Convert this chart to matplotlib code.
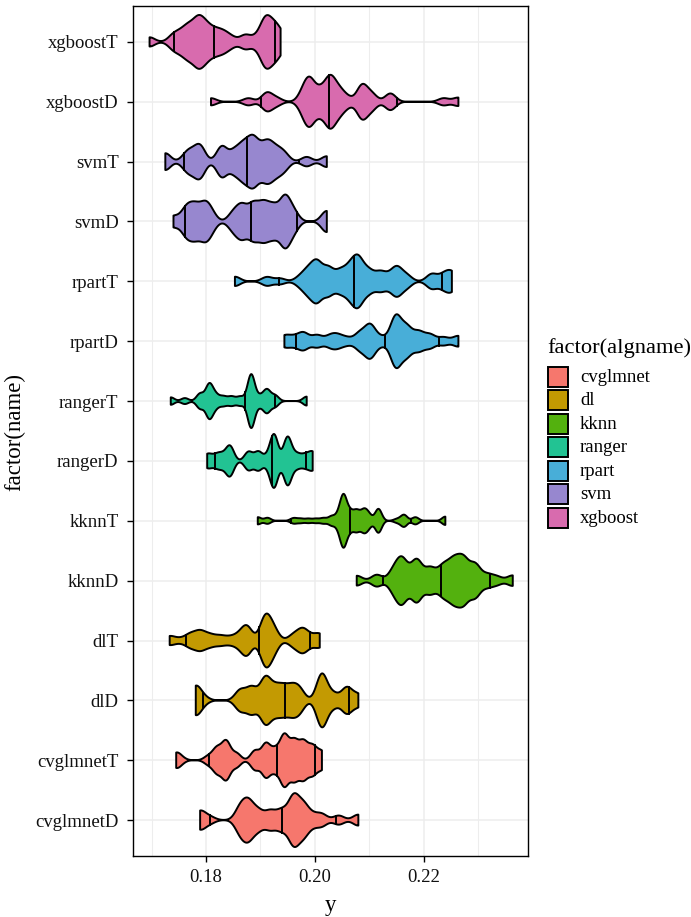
import numpy as np
import matplotlib
matplotlib.use("Agg")
import matplotlib.pyplot as plt
from matplotlib.patches import Rectangle

plt.rcParams["font.family"] = ["Liberation Serif", "DejaVu Serif"]

# rows from bottom to top
names = ["cvglmnetD", "cvglmnetT", "dlD", "dlT", "kknnD", "kknnT", "rangerD",
         "rangerT", "rpartD", "rpartT", "svmD", "svmT", "xgboostD", "xgboostT"]
algnames = ["cvglmnet", "dl", "kknn", "ranger", "rpart", "svm", "xgboost"]
alg_colors = ["#F6776D", "#C39A02", "#53B10E", "#22C393", "#48AED8", "#9787CF", "#D86BAE"]

# observed error values (clustered) and how often each occurs
cvglmnetD_vals = [0.1789, 0.1807, 0.1863, 0.1878, 0.1896, 0.1918, 0.1939, 0.1961, 0.1979, 0.1996, 0.2013, 0.2044, 0.2080]
cvglmnetD_cnt = [28, 10, 38, 52, 28, 28, 30, 72, 45, 15, 18, 14, 17]
cvglmnetT_vals = [0.1745, 0.1755, 0.1804, 0.1820, 0.1837, 0.1856, 0.1890, 0.1910, 0.1927, 0.1944, 0.1962, 0.1979, 0.1996, 0.2013]
cvglmnetT_cnt = [20, 6, 12, 35, 55, 20, 28, 48, 30, 72, 55, 52, 40, 25]
dlD_vals = [0.1781, 0.1796, 0.1863, 0.1884, 0.1909, 0.1927, 0.1942, 0.1958, 0.1972, 0.2013, 0.2034, 0.2059, 0.2080]
dlD_cnt = [38, 8, 28, 35, 60, 30, 30, 30, 28, 72, 18, 35, 16]
dlT_vals = [0.1733, 0.1752, 0.1771, 0.1789, 0.1807, 0.1826, 0.1844, 0.1860, 0.1875, 0.1909, 0.1924, 0.1961, 0.1978, 0.1994, 0.2009]
dlT_cnt = [14, 6, 20, 28, 17, 14, 10, 15, 45, 75, 35, 18, 35, 10, 20]
kknnD_vals = [0.2077, 0.2114, 0.2145, 0.2160, 0.2174, 0.2188, 0.2212, 0.2234, 0.2246, 0.2258, 0.2274, 0.2295, 0.2317, 0.2335, 0.2364]
kknnD_cnt = [15, 18, 30, 60, 12, 60, 38, 35, 25, 50, 60, 48, 18, 12, 16]
kknnT_vals = [0.1895, 0.1913, 0.1961, 0.1974, 0.1988, 0.2002, 0.2016, 0.2031, 0.2044, 0.2053, 0.2065, 0.2077,
              0.2090, 0.2099, 0.2117, 0.2151, 0.2164, 0.2185, 0.2240]
kknnT_cnt = [12, 10, 9, 7, 7, 7, 9, 15, 20, 80, 28, 32, 32, 20, 40, 6, 20, 12, 14]
rangerD_vals = [0.1802, 0.1813, 0.1823, 0.1832, 0.1844, 0.1878, 0.1896, 0.1912, 0.1925, 0.1950, 0.1967, 0.1982, 0.1996]
rangerD_cnt = [17, 8, 15, 10, 40, 25, 25, 10, 72, 66, 18, 16, 24]
rangerT_vals = [0.1735, 0.1761, 0.1789, 0.1806, 0.1818, 0.1832, 0.1847, 0.1863, 0.1883, 0.1899, 0.1912, 0.1927, 0.1985]
rangerT_cnt = [10, 8, 20, 45, 15, 12, 12, 12, 72, 12, 30, 15, 12]
rpartD_vals = [0.1944, 0.1961, 0.1979, 0.2004, 0.2028, 0.2042, 0.2059, 0.2083, 0.2102, 0.2123, 0.2149, 0.2169,
               0.2191, 0.2212, 0.2237, 0.2264]
rpartD_cnt = [16, 12, 25, 18, 15, 16, 10, 25, 48, 12, 75, 42, 28, 20, 12, 16]
rpartT_vals = [0.1853, 0.1912, 0.1936, 0.1973, 0.1988, 0.2004, 0.2025, 0.2047, 0.2065, 0.2080, 0.2099, 0.2120,
               0.2136, 0.2151, 0.2169, 0.2215, 0.2237, 0.2252]
rpartT_cnt = [16, 15, 10, 15, 35, 62, 45, 35, 45, 72, 35, 30, 15, 45, 20, 25, 22, 30]
svmD_vals = [0.1740, 0.1764, 0.1780, 0.1798, 0.1810, 0.1850, 0.1866, 0.1887, 0.1906, 0.1924, 0.1945, 0.1961, 0.2022]
svmD_cnt = [16, 40, 42, 45, 22, 25, 45, 50, 50, 42, 70, 28, 32]
svmT_vals = [0.1725, 0.1764, 0.1774, 0.1789, 0.1829, 0.1852, 0.1869, 0.1886, 0.1902, 0.1915, 0.1930, 0.1944, 0.1985, 0.2022]
svmT_cnt = [25, 20, 18, 45, 45, 30, 45, 62, 28, 45, 28, 22, 14, 16]
xgboostD_vals = [0.1809, 0.1878, 0.1912, 0.1930, 0.1979, 0.1991, 0.2010, 0.2028, 0.2044, 0.2059, 0.2087, 0.2105,
                 0.2139, 0.2237, 0.2264]
xgboostD_cnt = [12, 12, 30, 12, 30, 65, 35, 75, 35, 15, 55, 25, 28, 12, 14]
xgboostT_vals = [0.1696, 0.1740, 0.1755, 0.1769, 0.1786, 0.1801, 0.1817, 0.1832, 0.1847, 0.1872, 0.1892, 0.1909,
                 0.1924, 0.1937]
xgboostT_cnt = [15, 22, 25, 42, 65, 42, 30, 26, 14, 22, 14, 68, 42, 26]

# kernel bandwidth per row (same order as names)
bandwidths = [0.00098, 0.0008, 0.00098, 0.00098, 0.00098, 0.00061, 0.00074,
              0.00067, 0.00098, 0.00098, 0.00098, 0.00098, 0.00098, 0.00098]

groups = [
    (cvglmnetD_vals, cvglmnetD_cnt), (cvglmnetT_vals, cvglmnetT_cnt),
    (dlD_vals, dlD_cnt), (dlT_vals, dlT_cnt),
    (kknnD_vals, kknnD_cnt), (kknnT_vals, kknnT_cnt),
    (rangerD_vals, rangerD_cnt), (rangerT_vals, rangerT_cnt),
    (rpartD_vals, rpartD_cnt), (rpartT_vals, rpartT_cnt),
    (svmD_vals, svmD_cnt), (svmT_vals, svmT_cnt),
    (xgboostD_vals, xgboostD_cnt), (xgboostT_vals, xgboostT_cnt),
]
quantiles = [0.05, 0.5, 0.95]

W, H = 691, 917
fig = plt.figure(figsize=(W / 100, H / 100), dpi=100)
ax = fig.add_axes([132.7 / W, (H - 856) / H, (528 - 132.7) / W, 850 / H])

grid_col = "#EDEDED"
for gx in [0.17, 0.19, 0.21, 0.23]:
    ax.axvline(gx, color=grid_col, lw=0.8, zorder=0)
for gx in [0.18, 0.20, 0.22]:
    ax.axvline(gx, color=grid_col, lw=1.1, zorder=0)
for i in range(len(names)):
    ax.axhline(i + 1, color=grid_col, lw=1.1, zorder=0)

for i, (vals, cnt) in enumerate(groups):
    pos = i + 1
    alg = names[i][:-1]
    col = alg_colors[algnames.index(alg)]
    vals = np.array(vals)
    cnt = np.array(cnt, dtype=float)
    bw = bandwidths[i]
    grid = np.linspace(vals.min(), vals.max(), 512)
    dens = (cnt[None, :] * np.exp(-0.5 * ((grid[:, None] - vals[None, :]) / bw) ** 2)).sum(axis=1)
    hw = 0.45 * dens / dens.max()
    xs = np.concatenate([grid, grid[::-1]])
    ys = np.concatenate([pos + hw, (pos - hw)[::-1]])
    ax.fill(xs, ys, facecolor=col, edgecolor="black", lw=1.4, joinstyle="round", zorder=2)
    cum = np.cumsum(dens) / dens.sum()
    for qx in np.interp(quantiles, cum, grid):
        qh = np.interp(qx, grid, hw)
        ax.plot([qx, qx], [pos - qh, pos + qh], color="black", lw=1.4, zorder=3)

ax.set_xlim(0.1665, 0.2392)
ax.set_ylim(0.4, 14.6)
ax.set_xticks([0.18, 0.20, 0.22])
ax.set_xticklabels(["0.18", "0.20", "0.22"])
ax.set_yticks(range(1, len(names) + 1))
ax.set_yticklabels(names)
ax.tick_params(axis="both", length=4.2, width=1.0, color="black", labelsize=13.5,
               labelcolor="#111111")
ax.tick_params(axis="y", pad=6)
ax.tick_params(axis="x", pad=5)
for sp in ax.spines.values():
    sp.set_linewidth(1.0)
    sp.set_color("black")

fig.text(330 / W, 1 - 905 / H, "y", ha="center", va="center", fontsize=16.5, color="black")
fig.text(15 / W, 1 - 432 / H, "factor(name)", ha="center", va="center", rotation=90,
         fontsize=16.5, color="black")

# legend
fig.text(547 / W, 1 - 348 / H, "factor(algname)", ha="left", va="center", fontsize=16.2)
for k, (alg, col) in enumerate(zip(algnames, alg_colors)):
    cy = 376.7 + 23.5 * k
    fig.patches.append(Rectangle((547.5 / W, 1 - (cy + 10) / H), 20 / W, 20 / H,
                                 transform=fig.transFigure, facecolor=col,
                                 edgecolor="black", lw=1.4, figure=fig))
    fig.text(580 / W, 1 - (cy + 0.5) / H, alg, ha="left", va="center", fontsize=13.5)

fig.savefig("out.png", dpi=100)
